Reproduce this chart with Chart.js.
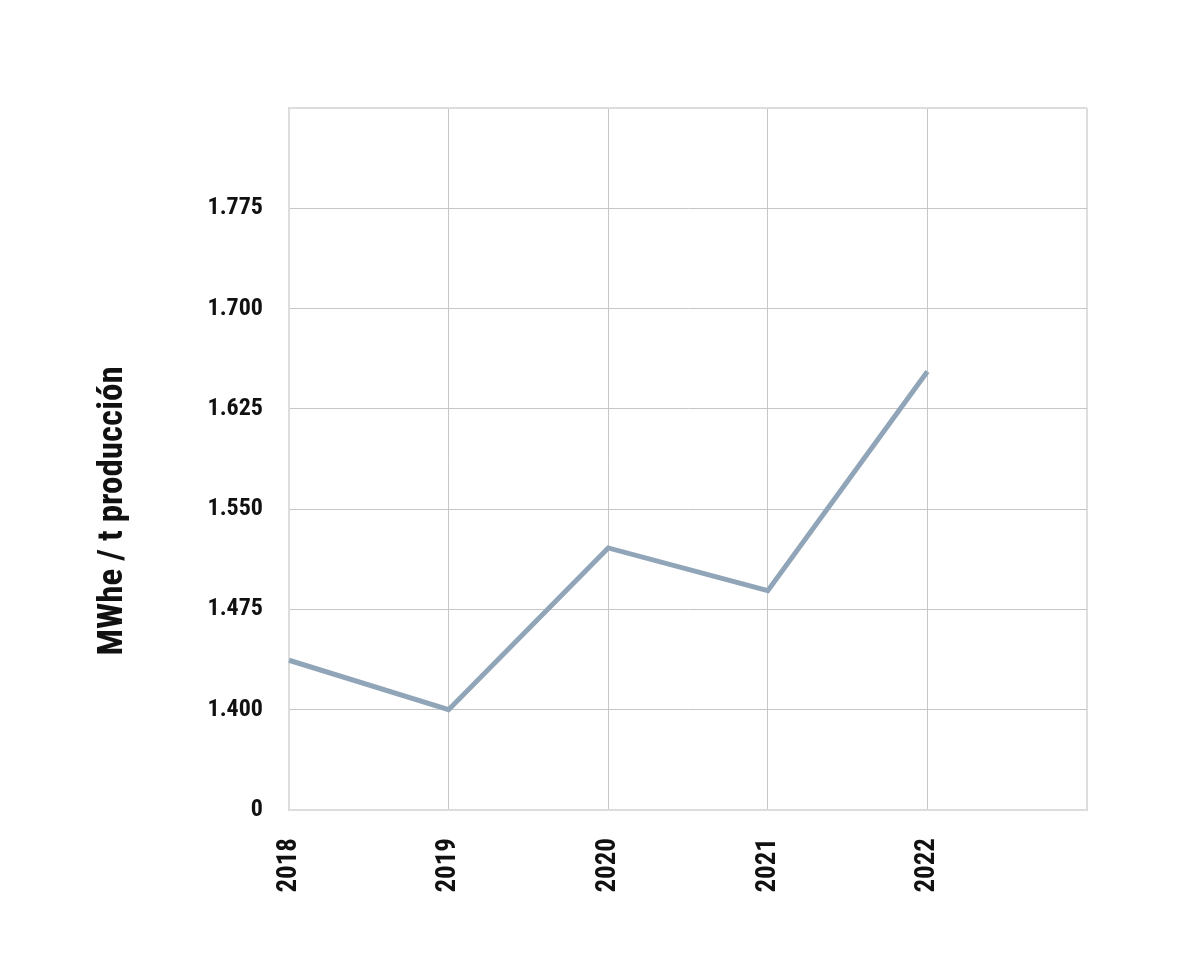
<!DOCTYPE html>
<html>
<head>
<meta charset="utf-8">
<script src="https://cdn.jsdelivr.net/npm/chart.js@4.4.1/dist/chart.umd.min.js"></script>
<style>
  html, body { margin: 0; padding: 0; background: #ffffff; }
  #wrap { width: 1200px; height: 980px; position: relative; }
</style>
</head>
<body>
<div id="wrap"><canvas id="c" width="1200" height="980"></canvas></div>
<script>
const categories = ['2018', '2019', '2020', '2021', '2022', ''];
const seriesValues = [1.437, 1.400, 1.521, 1.489, 1.653];
const yTickValues = [1.325, 1.400, 1.475, 1.550, 1.625, 1.700, 1.775, 1.850];
const yTickLabels = ['0', '1.400', '1.475', '1.550', '1.625', '1.700', '1.775', ''];
const yAxisTitle = 'MWhe / t producción';

const FONT = '"Roboto Condensed", "Liberation Sans Narrow", "DejaVu Sans Condensed", sans-serif';

const titlePlugin = {
  id: 'yTitle',
  afterDraw(chart) {
    const ctx = chart.ctx;
    ctx.save();
    ctx.translate(113, 511);
    ctx.rotate(-Math.PI / 2);
    ctx.font = 'bold 35px ' + FONT;
    ctx.fillStyle = '#111111';
    ctx.textAlign = 'center';
    ctx.textBaseline = 'middle';
    ctx.fillText(yAxisTitle, 0, 0);
    ctx.restore();
  }
};

new Chart(document.getElementById('c'), {
  type: 'line',
  data: {
    labels: categories,
    datasets: [{
      data: seriesValues,
      borderColor: '#91a5b9',
      borderWidth: 5,
      pointRadius: 0,
      fill: false,
      tension: 0,
      borderCapStyle: 'butt',
      borderJoinStyle: 'miter'
    }]
  },
  options: {
    responsive: false,
    animation: false,
    layout: { padding: { left: 0, right: 113, top: 108, bottom: 0 } },
    plugins: { legend: { display: false }, tooltip: { enabled: false } },
    scales: {
      x: {
        type: 'category',
        offset: false,
        afterFit(scale) { scale.height = 170; },
        grid: {
          color: (c) => (c.index === categories.length - 1 ? '#dddddd' : '#c6c6c6'),
          lineWidth: (c) => (c.index === categories.length - 1 ? 2 : 1),
          drawTicks: false
        },
        border: { color: '#dddddd', width: 2 },
        ticks: {
          minRotation: 90,
          maxRotation: 90,
          autoSkip: false,
          padding: 28,
          color: '#111111',
          font: { family: FONT, size: 27, weight: 'bold' }
        }
      },
      y: {
        type: 'linear',
        min: yTickValues[0],
        max: yTickValues[yTickValues.length - 1],
        afterFit(scale) { scale.width = 289; },
        afterBuildTicks(scale) { scale.ticks = yTickValues.map(v => ({ value: v })); },
        grid: {
          color: (c) => (c.index === yTickValues.length - 1 ? '#dddddd' : '#c6c6c6'),
          lineWidth: (c) => (c.index === yTickValues.length - 1 ? 2 : 1),
          drawTicks: false
        },
        border: { color: '#dddddd', width: 2 },
        ticks: {
          padding: 26,
          color: '#111111',
          font: { family: FONT, size: 24, weight: 'bold' },
          callback: (v, i) => yTickLabels[i]
        }
      }
    }
  },
  plugins: [titlePlugin]
});
</script>
</body>
</html>
